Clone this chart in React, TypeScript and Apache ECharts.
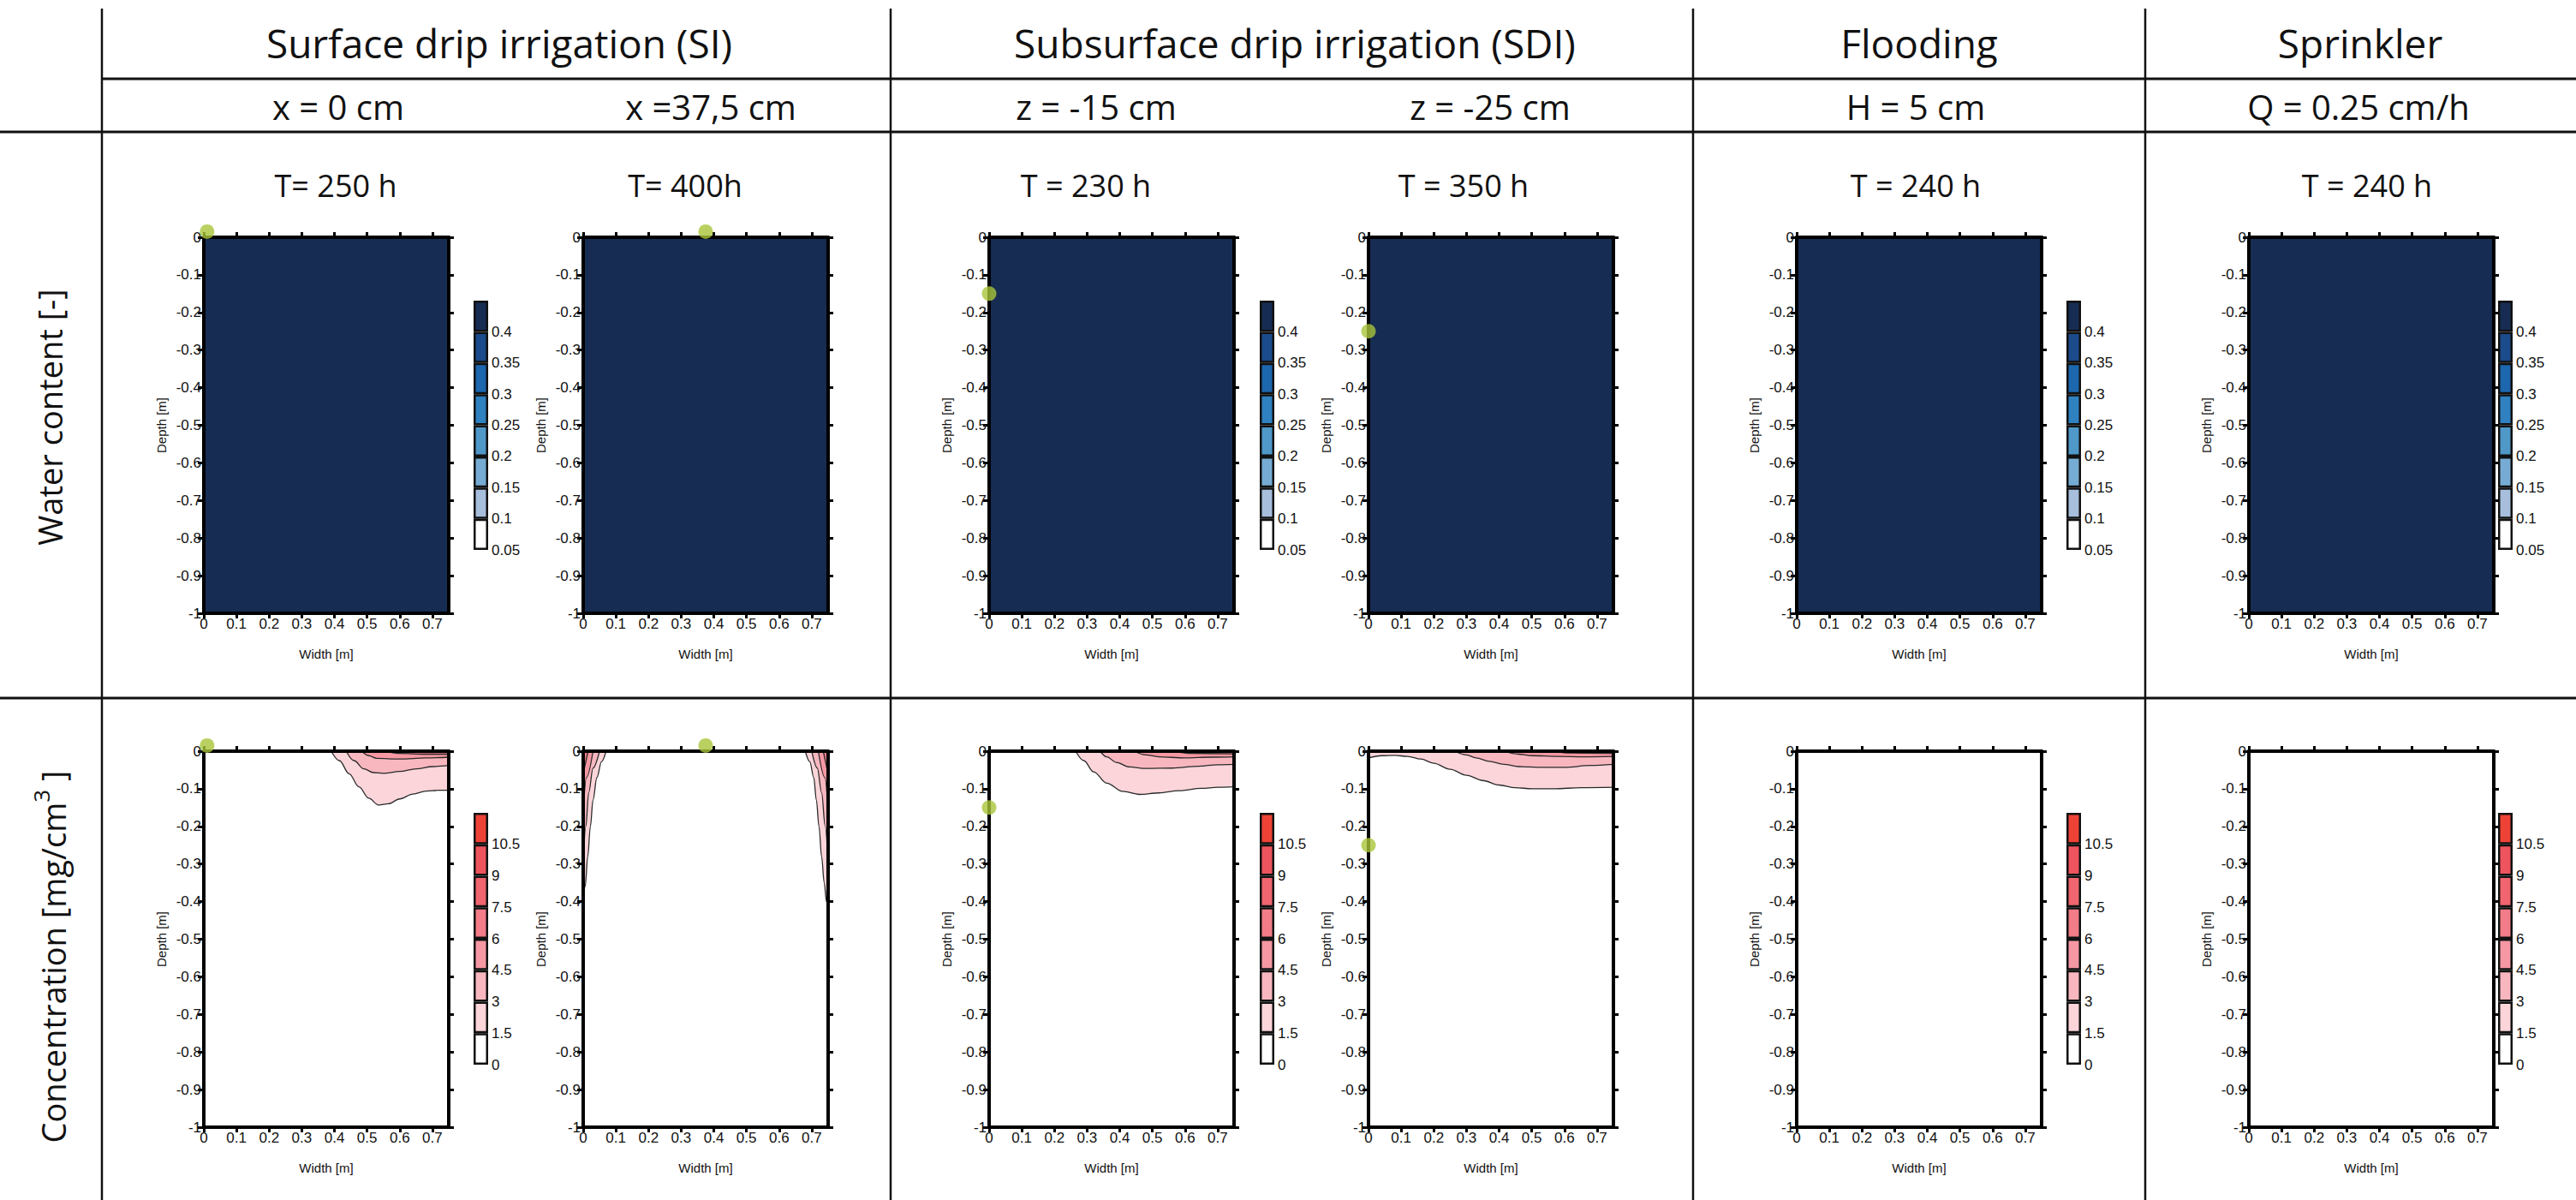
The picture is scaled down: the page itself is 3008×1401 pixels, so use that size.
import React, { useEffect, useRef } from 'react';
import * as echarts from 'echarts';

// ---------------- data ----------------
const groupHeaders = ['Surface drip irrigation (SI)', 'Subsurface drip irrigation (SDI)', 'Flooding', 'Sprinkler'];
const caseHeaders = ['x = 0 cm', 'x =37,5 cm', 'z = -15 cm', 'z = -25 cm', 'H = 5 cm', 'Q = 0.25 cm/h'];
const panelTimes = ['T= 250 h', 'T= 400h', 'T = 230 h', 'T = 350 h', 'T = 240 h', 'T = 240 h'];
const rowTitles = ['Water content [-]', 'Concentration [mg/cm', '3', ' ]'];

const widthTicks = [0, 0.1, 0.2, 0.3, 0.4, 0.5, 0.6, 0.7];
const depthTicks = [0, -0.1, -0.2, -0.3, -0.4, -0.5, -0.6, -0.7, -0.8, -0.9, -1];

const waterLevels = [0.05, 0.1, 0.15, 0.2, 0.25, 0.3, 0.35, 0.4, 0.45];
const waterColors = ['#ffffff', '#a7bedc', '#76acd3', '#4f98c8', '#2f81c0', '#1c67ae', '#1b4b8b', '#172c52'];
const concLevels = [0, 1.5, 3, 4.5, 6, 7.5, 9, 10.5, 12];
const concColors = ['#ffffff', '#fbd5da', '#f8b7bf', '#f598a3', '#f27c88', '#f0656f', '#ee545d', '#ee4236'];

// water content (uniform, saturated) per panel
const waterContent = [0.43, 0.43, 0.43, 0.43, 0.43, 0.43];

// emitter positions [width, depth] per panel
const emitterPos: ([number, number] | null)[] = [[0.01, 0.015], [0.375, 0.015], [0, -0.15], [0, -0.25], null, null];

// concentration contours (level, points [width, depth])
const siX0Contours = [
  { level: 1.5, points: [[0.39, 0], [0.415, -0.025], [0.445, -0.06], [0.475, -0.095], [0.505, -0.125], [0.535, -0.143], [0.565, -0.14], [0.6, -0.127], [0.64, -0.114], [0.68, -0.106], [0.72, -0.104], [0.75, -0.104]] },
  { level: 3, points: [[0.436, 0], [0.46, -0.025], [0.49, -0.047], [0.52, -0.057], [0.55, -0.059], [0.6, -0.054], [0.65, -0.047], [0.7, -0.041], [0.75, -0.038]] },
  { level: 4.5, points: [[0.484, 0], [0.505, -0.012], [0.53, -0.019], [0.6, -0.021], [0.68, -0.018], [0.75, -0.016]] },
  { level: 6, points: [[0.56, 0], [0.6, -0.006], [0.68, -0.008], [0.75, -0.008]] },
];
const siX375Contours = [
  { level: 1.5, points: [[0, -0.42], [0.006, -0.36], [0.014, -0.28], [0.022, -0.2], [0.03, -0.13], [0.042, -0.07], [0.056, -0.028], [0.07, 0]] },
  { level: 3, points: [[0, -0.3], [0.008, -0.2], [0.017, -0.11], [0.03, -0.045], [0.05, 0]] },
  { level: 4.5, points: [[0, -0.16], [0.01, -0.07], [0.03, 0]] },
  { level: 6, points: [[0, -0.06], [0.015, 0]] },
  { level: 1.5, points: [[0.68, 0], [0.694, -0.028], [0.706, -0.07], [0.714, -0.13], [0.722, -0.2], [0.73, -0.28], [0.738, -0.35], [0.745, -0.4], [0.75, -0.42]] },
  { level: 3, points: [[0.7, 0], [0.717, -0.045], [0.73, -0.11], [0.741, -0.2], [0.75, -0.3]] },
  { level: 4.5, points: [[0.72, 0], [0.74, -0.07], [0.75, -0.16]] },
  { level: 6, points: [[0.735, 0], [0.75, -0.06]] },
];
const sdiZ15Contours = [
  { level: 1.5, points: [[0.265, 0], [0.29, -0.025], [0.32, -0.055], [0.36, -0.085], [0.41, -0.107], [0.46, -0.115], [0.52, -0.111], [0.58, -0.105], [0.65, -0.099], [0.7, -0.096], [0.75, -0.095]] },
  { level: 3, points: [[0.34, 0], [0.36, -0.015], [0.39, -0.03], [0.43, -0.042], [0.48, -0.046], [0.56, -0.045], [0.64, -0.04], [0.7, -0.036], [0.75, -0.035]] },
  { level: 4.5, points: [[0.445, 0], [0.48, -0.01], [0.52, -0.015], [0.6, -0.018], [0.68, -0.016], [0.75, -0.015]] },
  { level: 6, points: [[0.57, 0], [0.62, -0.006], [0.75, -0.007]] },
];
const sdiZ25Contours = [
  { level: 1.5, points: [[0, -0.018], [0.04, -0.012], [0.08, -0.011], [0.12, -0.014], [0.16, -0.021], [0.2, -0.032], [0.25, -0.048], [0.3, -0.064], [0.35, -0.078], [0.4, -0.09], [0.45, -0.097], [0.5, -0.1], [0.57, -0.1], [0.65, -0.097], [0.75, -0.096]] },
  { level: 3, points: [[0.265, 0], [0.3, -0.01], [0.33, -0.018], [0.37, -0.027], [0.415, -0.035], [0.46, -0.041], [0.52, -0.043], [0.6, -0.043], [0.68, -0.038], [0.75, -0.035]] },
  { level: 4.5, points: [[0.415, 0], [0.46, -0.008], [0.5, -0.012], [0.58, -0.014], [0.66, -0.015], [0.75, -0.014]] },
  { level: 6, points: [[0.57, 0], [0.62, -0.005], [0.75, -0.006]] },
];
const panelContours = [siX0Contours, siX375Contours, sdiZ15Contours, sdiZ25Contours, [], []];

// contour labels: [width, depth, text, rotation]
const siX0Labels: [number, number, string, number][] = [[0.69, -0.104, '1.5', 0], [0.7, -0.041, '3', 0]];
const siX375Labels: [number, number, string, number][] = [[0.047, -0.06, '1.5', -72], [0.711, -0.12, '1.5', -100]];
const sdiZ15Labels: [number, number, string, number][] = [[0.335, -0.07, '1.5', -45], [0.7, -0.036, '3', 0], [0.69, -0.097, '1.5', 0]];
const sdiZ25Labels: [number, number, string, number][] = [[0.305, -0.066, '1.5', -25], [0.705, -0.037, '3', 0], [0.7, -0.096, '1.5', 0]];
const panelLabels = [siX0Labels, siX375Labels, sdiZ15Labels, sdiZ25Labels, [], []];

// ---------------- layout ----------------
const W = 3008;
const H = 1401;
const PANEL_LEFT = [238, 681, 1155, 1598, 2098, 2626];
const PANEL_W = 286;
const ROW_TOP = [277, 877];
const PANEL_H = 439;
const CBAR_LEFT: (number | null)[] = [553, null, 1471, null, 2413, 2917];
const CBAR_W = 17;
const CBAR_TOP = [351, 949];
const CBAR_H = [291, 294];
const GROUP_X = [583, 1512, 2241, 2756];
const CASE_X = [395, 830, 1280, 1740, 2237, 2754];
const TITLE_X = [392, 800, 1268, 1709, 2237, 2764];
const VLINES = [119, 1040, 1977, 2505];

const SANS = '"Liberation Sans", Arial, sans-serif';
const HUMAN = '"Open Sans", "Noto Sans", sans-serif';

function colorFor(levels: number[], colors: string[], v: number) {
  for (let i = colors.length - 1; i >= 0; i--) if (v >= levels[i]) return colors[i];
  return colors[0];
}

function buildOption() {
  const grid: any[] = [];
  const xAxis: any[] = [];
  const yAxis: any[] = [];
  const series: any[] = [];

  const lineStyle = { color: '#000', width: 4 };
  const tickStyle = { color: '#000', width: 3 };

  for (let r = 0; r < 2; r++) {
    for (let p = 0; p < 6; p++) {
      const g = grid.length;
      grid.push({ left: PANEL_LEFT[p], top: ROW_TOP[r], width: PANEL_W, height: PANEL_H, containLabel: false });
      const xi = xAxis.length;
      xAxis.push({
        gridIndex: g, type: 'value', min: 0, max: 0.75, interval: 0.1, position: 'bottom', z: 10,
        axisLine: { show: true, onZero: false, lineStyle },
        axisTick: { show: true, length: 6, lineStyle: tickStyle, customValues: widthTicks },
        axisLabel: { show: true, customValues: widthTicks, formatter: (v: number) => String(v), color: '#111', fontSize: 17, fontFamily: SANS, margin: 4 },
        splitLine: { show: false },
        name: 'Width [m]', nameLocation: 'middle', nameGap: 40,
        nameTextStyle: { color: '#111', fontSize: 15, fontFamily: SANS },
      });
      xAxis.push({
        gridIndex: g, type: 'value', min: 0, max: 0.75, interval: 0.1, position: 'top', z: 10,
        axisLine: { show: true, onZero: false, lineStyle },
        axisTick: { show: true, length: 6, lineStyle: tickStyle, customValues: widthTicks },
        axisLabel: { show: false },
        splitLine: { show: false },
      });
      const yi = yAxis.length;
      yAxis.push({
        gridIndex: g, type: 'value', min: -1, max: 0, interval: 0.1, position: 'left', z: 10,
        axisLine: { show: true, onZero: false, lineStyle },
        axisTick: { show: true, length: 7, lineStyle: tickStyle, customValues: depthTicks },
        axisLabel: { show: true, customValues: depthTicks, formatter: (v: number) => String(v), color: '#111', fontSize: 17, fontFamily: SANS, margin: 3 },
        splitLine: { show: false },
        name: 'Depth [m]', nameLocation: 'middle', nameGap: 42, nameRotate: 90,
        nameTextStyle: { color: '#111', fontSize: 15, fontFamily: SANS },
      });
      yAxis.push({
        gridIndex: g, type: 'value', min: -1, max: 0, interval: 0.1, position: 'right', z: 10,
        axisLine: { show: true, onZero: false, lineStyle },
        axisTick: { show: true, length: 6, lineStyle: tickStyle, customValues: depthTicks },
        axisLabel: { show: false },
        splitLine: { show: false },
      });

      if (r === 0) {
        series.push({
          type: 'line', xAxisIndex: xi, yAxisIndex: yi, silent: true, z: 2,
          data: [[0, 0], [0.75, 0]], symbol: 'none',
          lineStyle: { width: 0 },
          areaStyle: { color: colorFor(waterLevels, waterColors, waterContent[p]), opacity: 1, origin: 'start' },
        });
      } else {
        panelContours[p].forEach((c: any) => {
          const li = concLevels.indexOf(c.level);
          series.push({
            type: 'line', xAxisIndex: xi, yAxisIndex: yi, silent: true, z: 2,
            data: c.points, symbol: 'none', smooth: 0.35, smoothMonotone: 'x',
            lineStyle: { color: '#2a2a2a', width: 1.3 },
            areaStyle: { color: concColors[li], opacity: 1, origin: 'end' },
          });
        });
        const labs = panelLabels[p];
        if (labs.length) {
          series.push({
            type: 'scatter', xAxisIndex: xi, yAxisIndex: yi, silent: true, z: 5,
            symbolSize: 1, itemStyle: { opacity: 0 },
            data: labs.map((l) => ({
              value: [l[0], l[1], l[2]],
              label: { rotate: l[3] },
            })),
            label: {
              show: true, position: 'inside', formatter: (pp: any) => pp.value[2],
              fontSize: 10, fontWeight: 'bold', color: '#111', fontFamily: SANS,
            },
          });
        }
      }
      const e = emitterPos[p];
      if (e) {
        series.push({
          type: 'scatter', xAxisIndex: xi, yAxisIndex: yi, z: 20, clip: false, silent: true,
          symbol: 'circle', symbolSize: 17, itemStyle: { color: '#a9c53b' },
          data: [e],
        });
      }
    }
  }

  // colour bars
  for (let r = 0; r < 2; r++) {
    const levels = r === 0 ? waterLevels : concLevels;
    const colors = r === 0 ? waterColors : concColors;
    for (let p = 0; p < 6; p++) {
      const cl = CBAR_LEFT[p];
      if (cl == null) continue;
      const g = grid.length;
      grid.push({ left: cl, top: CBAR_TOP[r], width: CBAR_W, height: CBAR_H[r], containLabel: false });
      const xi = xAxis.length;
      xAxis.push({ gridIndex: g, type: 'category', data: ['c'], show: false });
      const yi = yAxis.length;
      yAxis.push({
        gridIndex: g, type: 'value', min: levels[0], max: levels[levels.length - 1], position: 'right',
        axisLine: { show: false }, axisTick: { show: false }, splitLine: { show: false },
        axisLabel: {
          show: true, customValues: levels.slice(0, levels.length - 1),
          formatter: (v: number) => String(v), color: '#111', fontSize: 17, fontFamily: SANS,
          margin: 4, verticalAlign: 'middle',
        },
      });
      const stack = 'cb' + g;
      series.push({
        type: 'bar', xAxisIndex: xi, yAxisIndex: yi, stack, silent: true, barWidth: '100%',
        data: [levels[0]], itemStyle: { color: 'rgba(0,0,0,0)' },
      });
      for (let k = 0; k < colors.length; k++) {
        series.push({
          type: 'bar', xAxisIndex: xi, yAxisIndex: yi, stack, silent: true, barWidth: '100%',
          data: [+(levels[k + 1] - levels[k]).toFixed(4)],
          itemStyle: { color: colors[k], borderColor: '#111', borderWidth: 2.5 },
        });
      }
    }
  }

  // table and headings
  const graphic: any[] = [];
  const ls = { stroke: '#111', lineWidth: 3 };
  VLINES.forEach((x) => graphic.push({ type: 'line', shape: { x1: x, y1: 10, x2: x, y2: H }, style: { stroke: '#111', lineWidth: 2.5 }, silent: true }));
  graphic.push({ type: 'line', shape: { x1: VLINES[0], y1: 92, x2: W, y2: 92 }, style: ls, silent: true });
  graphic.push({ type: 'line', shape: { x1: 0, y1: 154, x2: W, y2: 154 }, style: ls, silent: true });
  graphic.push({ type: 'line', shape: { x1: 0, y1: 815, x2: W, y2: 815 }, style: ls, silent: true });

  groupHeaders.forEach((t, i) => graphic.push({
    type: 'text', x: GROUP_X[i], y: 50, silent: true,
    style: { text: t, fill: '#111', font: `46px ${HUMAN}`, align: 'center', verticalAlign: 'middle' },
  }));
  caseHeaders.forEach((t, i) => graphic.push({
    type: 'text', x: CASE_X[i], y: 124, silent: true,
    style: { text: t, fill: '#111', font: `40px ${HUMAN}`, align: 'center', verticalAlign: 'middle' },
  }));
  panelTimes.forEach((t, i) => graphic.push({
    type: 'text', x: TITLE_X[i], y: 216, silent: true,
    style: { text: t, fill: '#111', font: `36px ${HUMAN}`, align: 'center', verticalAlign: 'middle' },
  }));
  graphic.push({
    type: 'text', x: 58, y: 487, rotation: Math.PI / 2, silent: true,
    style: { text: rowTitles[0], fill: '#111', font: `38px ${HUMAN}`, align: 'center', verticalAlign: 'middle' },
  });
  graphic.push({
    type: 'text', x: 58, y: 1117, rotation: Math.PI / 2, silent: true,
    style: {
      text: `{a|${rowTitles[1]}}{s|${rowTitles[2]}}{a|${rowTitles[3]}}`,
      align: 'center', verticalAlign: 'middle', fill: '#111',
      rich: {
        a: { fontSize: 38, fontFamily: HUMAN, fill: '#111', lineHeight: 46, verticalAlign: 'bottom' },
        s: { fontSize: 26, fontFamily: HUMAN, fill: '#111', lineHeight: 46, verticalAlign: 'top', padding: [0, 0, 14, 0] },
      },
    },
  });

  return {
    animation: false,
    backgroundColor: '#ffffff',
    grid, xAxis, yAxis, series, graphic,
  };
}

export default function App() {
  const ref = useRef<HTMLDivElement>(null);
  useEffect(() => {
    const chart = echarts.init(ref.current!, null, { renderer: 'svg', width: W, height: H });
    chart.setOption(buildOption() as any);
    return () => chart.dispose();
  }, []);
  return <div ref={ref} style={{ position: 'fixed', left: 0, top: 0, width: W, height: H, background: '#fff' }} />;
}
